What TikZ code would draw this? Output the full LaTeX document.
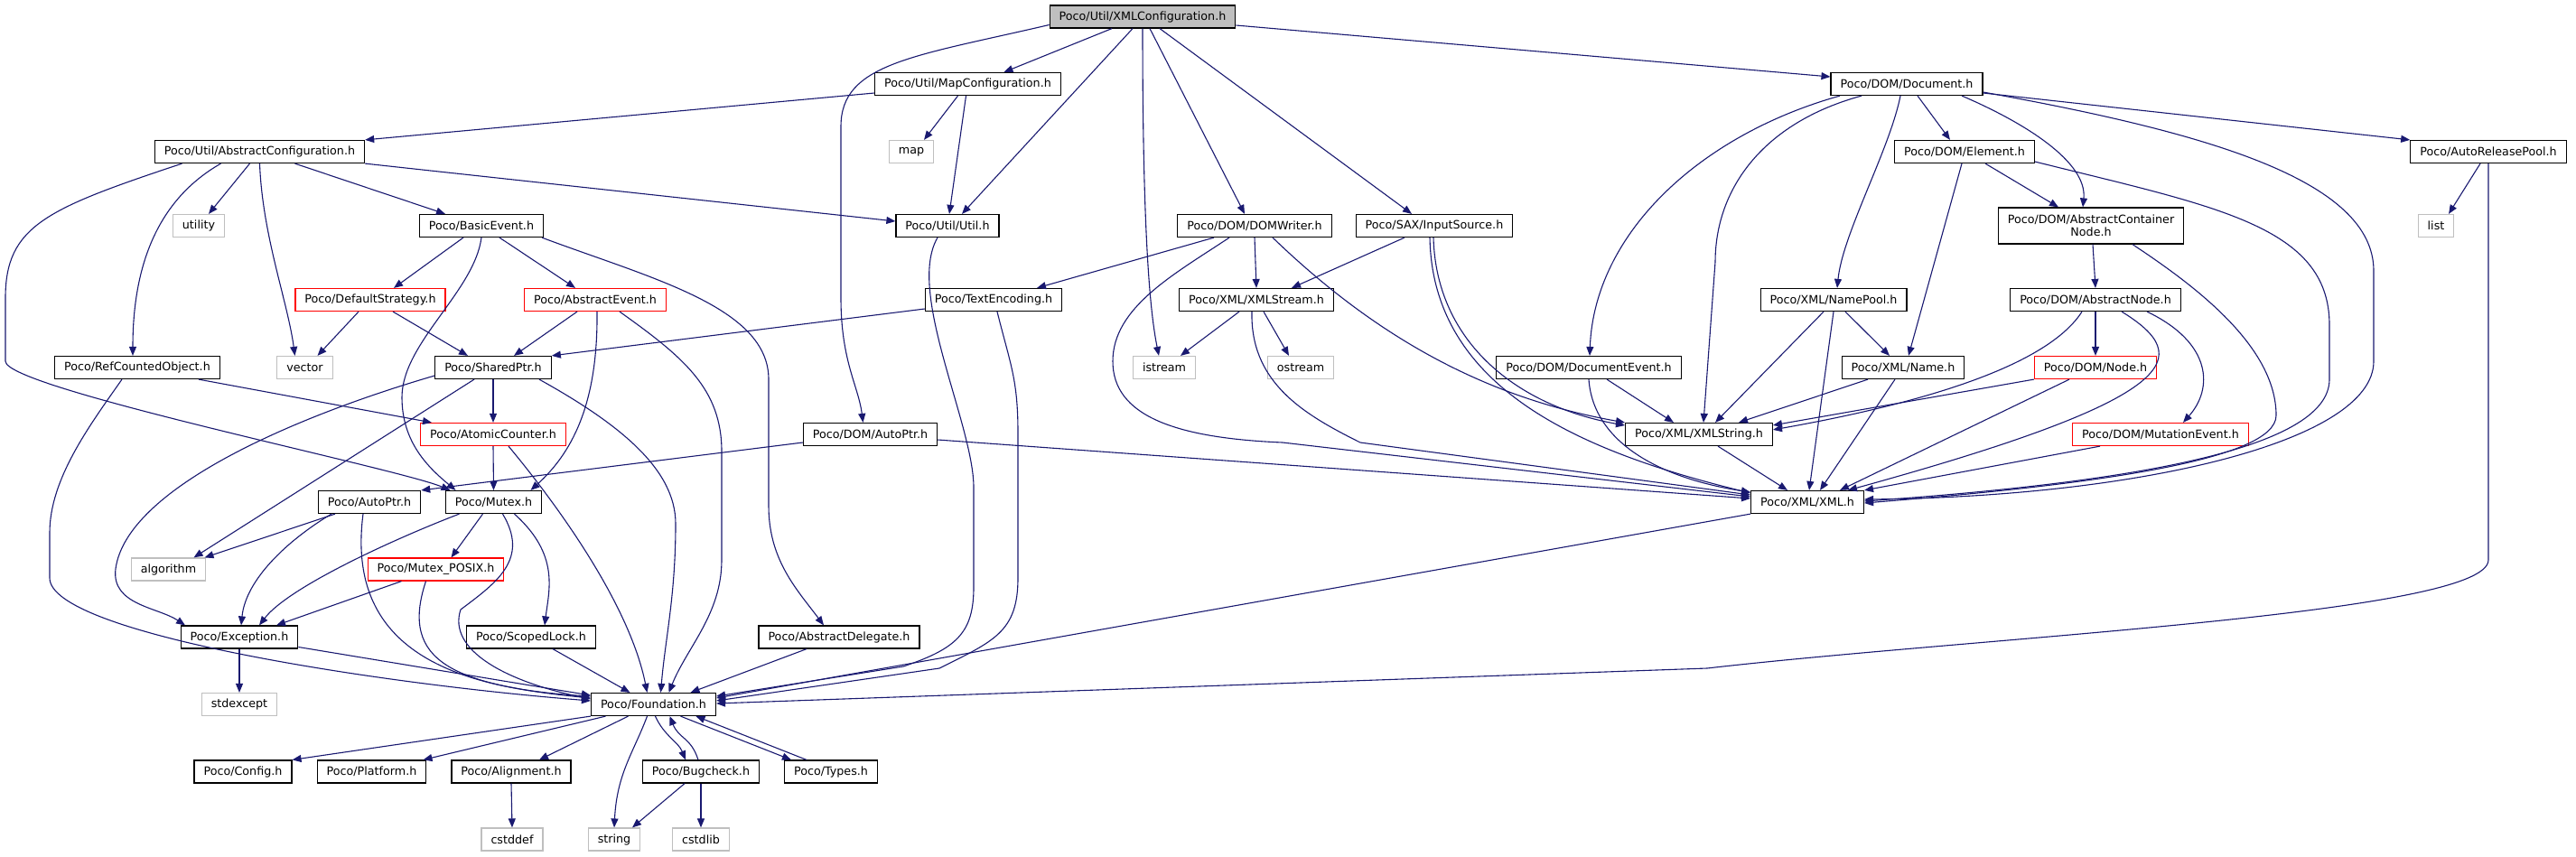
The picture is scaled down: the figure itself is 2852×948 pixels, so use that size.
\documentclass[tikz,border=0pt]{standalone}
\usepackage{fontspec}
\setmainfont{DejaVu Sans}
\usetikzlibrary{arrows.meta}
\definecolor{edgeblue}{HTML}{191970}
\definecolor{grey75}{HTML}{BFBFBF}

\begin{document}
\begin{tikzpicture}[
  x=1pt, y=-1pt,
  >={Triangle[length=10pt,width=8pt]},
  every node/.style={font=\fontsize{12.7}{14.5}\selectfont},
  hdr/.style={rectangle, draw=black, line width=1.2pt, minimum height=25pt, inner xsep=10.5pt, inner ysep=0pt},
  syshdr/.style={hdr, draw=grey75},
  redhdr/.style={hdr, draw=red},
  roothdr/.style={hdr, fill=grey75},
  dep/.style={->, draw=edgeblue, line width=1.1pt}
]
  \useasboundingbox (0,0) rectangle (2852,948);

  \node[roothdr] (xmlcfg) at (1265,18.5) {Poco/Util/XMLConfiguration.h};
  \node[hdr] (mapcfg) at (1071.5,93) {Poco/Util/MapConfiguration.h};
  \node[hdr] (document) at (2111,93) {Poco/DOM/Document.h};
  \node[hdr] (abscfg) at (287.5,168) {Poco/Util/AbstractConfiguration.h};
  \node[syshdr] (map) at (1009,168) {map};
  \node[hdr] (element) at (2175,168) {Poco/DOM/Element.h};
  \node[hdr] (arpool) at (2755,168) {Poco/AutoReleasePool.h};
  \node[syshdr] (utility) at (220,250) {utility};
  \node[hdr] (basicevent) at (533,250) {Poco/BasicEvent.h};
  \node[hdr] (utilh) at (1049,250) {Poco/Util/Util.h};
  \node[hdr] (domwriter) at (1389,250) {Poco/DOM/DOMWriter.h};
  \node[hdr] (inputsrc) at (1588,250) {Poco/SAX/InputSource.h};
  \node[hdr, minimum height=40pt, align=center] (acnode) at (2315,250) {Poco/DOM/AbstractContainer\\Node.h};
  \node[syshdr] (list) at (2697,250) {list};
  \node[redhdr] (defstrat) at (410,332) {Poco/DefaultStrategy.h};
  \node[redhdr] (absevent) at (659,332) {Poco/AbstractEvent.h};
  \node[hdr] (textenc) at (1100,332) {Poco/TextEncoding.h};
  \node[hdr] (xmlstream) at (1391,332) {Poco/XML/XMLStream.h};
  \node[hdr] (namepool) at (2030,332) {Poco/XML/NamePool.h};
  \node[hdr] (absnode) at (2320,332) {Poco/DOM/AbstractNode.h};
  \node[hdr] (refcnt) at (152,407) {Poco/RefCountedObject.h};
  \node[syshdr] (vector) at (337.5,407) {vector};
  \node[hdr] (sharedptr) at (546,407) {Poco/SharedPtr.h};
  \node[syshdr] (istream) at (1289,407) {istream};
  \node[syshdr] (ostream) at (1440,407) {ostream};
  \node[hdr] (docevent) at (1759,407) {Poco/DOM/DocumentEvent.h};
  \node[hdr] (xmlname) at (2107,407) {Poco/XML/Name.h};
  \node[redhdr] (domnode) at (2320,407) {Poco/DOM/Node.h};
  \node[redhdr] (atomic) at (546,481) {Poco/AtomicCounter.h};
  \node[hdr] (domautoptr) at (963.5,481) {Poco/DOM/AutoPtr.h};
  \node[hdr] (xmlstring) at (1881,481) {Poco/XML/XMLString.h};
  \node[redhdr] (mutevent) at (2392,481) {Poco/DOM/MutationEvent.h};
  \node[hdr] (autoptr) at (409,556) {Poco/AutoPtr.h};
  \node[hdr] (mutex) at (546.5,556) {Poco/Mutex.h};
  \node[hdr] (xmlh) at (2001,556) {Poco/XML/XML.h};
  \node[syshdr] (algorithm) at (186.5,630.5) {algorithm};
  \node[redhdr] (mposix) at (482.5,630.5) {Poco/Mutex\_POSIX.h};
  \node[hdr] (exception) at (265,705.5) {Poco/Exception.h};
  \node[hdr] (scopedlock) at (588,705.5) {Poco/ScopedLock.h};
  \node[hdr] (absdelegate) at (929,705.5) {Poco/AbstractDelegate.h};
  \node[syshdr] (stdexcept) at (265,780) {stdexcept};
  \node[hdr] (foundation) at (723.5,780) {Poco/Foundation.h};
  \node[hdr] (config) at (269,854.5) {Poco/Config.h};
  \node[hdr] (platform) at (411.5,854.5) {Poco/Platform.h};
  \node[hdr] (alignment) at (566,854.5) {Poco/Alignment.h};
  \node[hdr] (bugcheck) at (776,854.5) {Poco/Bugcheck.h};
  \node[hdr] (types) at (920,854.5) {Poco/Types.h};
  \node[syshdr] (cstddef) at (567,929.5) {cstddef};
  \node[syshdr] (string) at (680,929.5) {string};
  \node[syshdr] (cstdlib) at (776,929.5) {cstdlib};

  \draw[dep] ([xshift=-34]xmlcfg.south) -- ([xshift=40]mapcfg.north);
  \draw[dep] ([xshift=-11]xmlcfg.south) -- ([xshift=16]utilh.north);
  \draw[dep] (xmlcfg.south) .. controls +(0,250) and +(-8,-40) .. ([xshift=-6]istream.north);
  \draw[dep] ([xshift=8]xmlcfg.south) -- ([xshift=-11]domwriter.north);
  \draw[dep] ([xshift=19]xmlcfg.south) -- ([xshift=-25]inputsrc.north);
  \draw[dep] ([yshift=-9.5]xmlcfg.east) -- ([yshift=8]document.west);
  \draw[dep] ([yshift=-9]xmlcfg.west) .. controls +(-150,35) and +(0,-70) .. (931,140) -- (931,330)
    .. controls +(0,70) and +(-5,-40) .. ([xshift=-8]domautoptr.north);

  \draw[dep] ([yshift=-10]mapcfg.west) -- (abscfg.north east);
  \draw[dep] ([xshift=-11]mapcfg.south) -- ([xshift=14]map.north);
  \draw[dep] ([xshift=-2]mapcfg.south) -- ([xshift=2]utilh.north);

  \draw[dep] (abscfg.south east) -- ([yshift=5]utilh.west);
  \draw[dep] ([xshift=-11]abscfg.south) -- ([xshift=11]utility.north);
  \draw[dep] (abscfg.south) .. controls +(3,80) and +(-8,-60) .. ([xshift=-11]vector.north);
  \draw[dep] ([xshift=39]abscfg.south) -- ([xshift=-40]basicevent.north);
  \draw[dep] ([xshift=-43]abscfg.south) .. controls +(-70,40) and +(0,-100) .. ([xshift=-5]refcnt.north);
  \draw[dep] ([xshift=-86]abscfg.south) .. controls +(-150,50) and +(0,-80) .. (6,330) -- (6,400)
    .. controls +(0,30) and +(-60,-25) .. ([xshift=-48]mutex.north);

  \draw[dep] ([xshift=-20]basicevent.south) -- ([xshift=26]defstrat.north);
  \draw[dep] ([xshift=20]basicevent.south) -- ([xshift=-22]absevent.north);
  \draw[dep] (basicevent.south) .. controls +(-8,60) and +(0,-60) .. (445,440)
    .. controls +(0,50) and +(-30,-25) .. ([xshift=-42]mutex.north);
  \draw[dep] ([xshift=67]basicevent.south) .. controls +(120,45) and +(0,-80) .. (851,420) -- (851,560)
    .. controls +(0,60) and +(-30,-40) .. ([xshift=-17]absdelegate.north);

  \draw[dep] ([xshift=-13]defstrat.south) -- ([xshift=14]vector.north);
  \draw[dep] ([xshift=25]defstrat.south) -- ([xshift=-28]sharedptr.north);
  \draw[dep] ([xshift=-20]absevent.south) -- ([xshift=23]sharedptr.north);
  \draw[dep] ([xshift=2]absevent.south) .. controls +(1,95) and +(50,-45) .. ([xshift=41]mutex.north);
  \draw[dep] ([xshift=27]absevent.south) .. controls +(70,50) and +(0,-70) .. (799,500) -- (799,620)
    .. controls +(0,60) and +(20,-50) .. ([xshift=17]foundation.north);

  \draw[dep] ([xshift=68]refcnt.south) -- ([xshift=-68]atomic.north);
  \draw[dep] ([xshift=-17]refcnt.south) .. controls +(-35,50) and +(0,-60) .. (55,590) -- (55,640)
    .. controls +(0,60) and +(-250,-20) .. ([yshift=4]foundation.west);

  \draw[dep] (sharedptr.south) -- (atomic.north);
  \draw[dep] ([xshift=-21]sharedptr.south) -- ([xshift=28]algorithm.north);
  \draw[dep] ([yshift=-9]sharedptr.west) .. controls +(-151,44) and +(12,-90) .. (128,630)
    .. controls +(-5,40) and +(-30,-20) .. ([xshift=-60]exception.north);
  \draw[dep] ([xshift=51]sharedptr.south) .. controls +(90,50) and +(0,-60) .. (748,580)
    .. controls +(0,80) and +(5,-60) .. ([xshift=8]foundation.north);

  \draw[dep] ([yshift=-10]textenc.west) -- (sharedptr.north east);
  \draw[dep] ([xshift=4]textenc.south) .. controls +(15,60) and +(0,-60) .. (1127,480) -- (1127,640)
    .. controls +(0,60) and +(60,-30) .. (1040,740) -- ([yshift=4]foundation.east);

  \draw[dep] ([xshift=-11]utilh.south) .. controls +(-35,60) and +(0,-70) .. (1078,540) -- (1078,650)
    .. controls +(0,50) and +(60,-20) .. (1000,738) -- ([yshift=9]foundation.east);

  \draw[dep] (atomic.south) -- (mutex.north);
  \draw[dep] ([xshift=17]atomic.south) .. controls +(50,60) and +(-20,-100) .. ([xshift=-7]foundation.north);

  \draw[dep] ([yshift=-9]domautoptr.west) -- (autoptr.north east);
  \draw[dep] ([yshift=-6]domautoptr.east) -- ([yshift=4]xmlh.west);

  \draw[dep] ([xshift=-38]autoptr.south) -- ([xshift=40]algorithm.north);
  \draw[dep] ([xshift=-42]autoptr.south) .. controls +(-50,30) and +(5,-50) .. ([xshift=2]exception.north);
  \draw[dep] ([xshift=-7]autoptr.south) .. controls +(-17,131) and +(-183,-11) .. ([yshift=9]foundation.west);

  \draw[dep] ([xshift=-38]mutex.south) .. controls +(-68,26) and +(33,-43) .. ([xshift=22]exception.north);
  \draw[dep] ([xshift=-12]mutex.south) -- ([xshift=17]mposix.north);
  \draw[dep] ([xshift=10]mutex.south) .. controls +(30,50) and +(40,-30) .. (510,675)
    .. controls +(-15,45) and +(-93,-19) .. ([yshift=6]foundation.west);
  \draw[dep] ([xshift=23]mutex.south) .. controls +(50,45) and +(5,-40) .. ([xshift=15]scopedlock.north);

  \draw[dep] ([xshift=-38]mposix.south) -- ([xshift=41]exception.north);
  \draw[dep] ([xshift=-11]mposix.south) .. controls +(-30,90) and +(-150,-15) .. ([yshift=7]foundation.west);

  \draw[dep] (exception.south) -- (stdexcept.north);
  \draw[dep] ([yshift=-11]exception.east) -- ([yshift=10]foundation.west);
  \draw[dep] ([xshift=24]scopedlock.south) -- ([xshift=-26]foundation.north);
  \draw[dep] ([xshift=-36]absdelegate.south) -- ([xshift=41]foundation.north);

  \draw[dep] (foundation.south west) -- (config.north east);
  \draw[dep] ([xshift=-53]foundation.south) -- ([xshift=57]platform.north);
  \draw[dep] ([xshift=-28]foundation.south) -- ([xshift=31]alignment.north);
  \draw[dep] ([xshift=-7]foundation.south) .. controls +(-15,40) and +(3,-60) .. (string.north);
  \draw[dep] ([xshift=2]foundation.south) .. controls +(10,22) and +(-8,-20) .. ([xshift=-17]bugcheck.north);
  \draw[dep] ([xshift=30]foundation.south) -- ([xshift=-44]types.north);
  \draw[dep] ([xshift=-3]bugcheck.north) .. controls +(-8,-25) and +(10,25) .. ([xshift=18]foundation.south);
  \draw[dep] ([xshift=-27]types.north) -- ([xshift=47]foundation.south);
  \draw[dep] (alignment.south) -- (cstddef.north);
  \draw[dep] ([xshift=-18]bugcheck.south) -- ([xshift=20]string.north);
  \draw[dep] (bugcheck.south) -- (cstdlib.north);

  \draw[dep] (xmlh.south west) -- ([yshift=7]foundation.east);
  \draw[dep] ([xshift=-9]arpool.south) -- ([xshift=14]list.north);
  \draw[dep] (arpool.south) -- (2755,620) .. controls +(0,60) and +(305,-35) .. (1890,740) -- ([yshift=1]foundation.east);

  \draw[dep] ([xshift=-74]document.south) .. controls +(-157,44) and +(5,-134) .. ([xshift=1]docevent.north);
  \draw[dep] ([xshift=-50]document.south) .. controls +(-110,30) and +(0,-80) .. (1899,290) -- ([xshift=5]xmlstring.north);
  \draw[dep] ([xshift=-7]document.south) .. controls +(-12,60) and +(6,-60) .. ([xshift=4]namepool.north);
  \draw[dep] ([xshift=12]document.south) -- ([xshift=-16]element.north);
  \draw[dep] ([xshift=61]document.south) .. controls +(70,30) and +(5,-50) .. ([xshift=-9]acnode.north);
  \draw[dep] ([yshift=-9]document.east) .. controls +(250,45) and +(0,-100) .. (2628,300) -- (2628,400)
    .. controls +(0,90) and +(300,-3) .. ([yshift=3]xmlh.east);
  \draw[dep] ([yshift=-10]document.east) -- (arpool.north west);

  \draw[dep] ([xshift=23]element.south) -- ([xshift=-36]acnode.north);
  \draw[dep] ([xshift=-3]element.south) -- ([xshift=6]xmlname.north);
  \draw[dep] ([yshift=-11]element.east) .. controls +(200,50) and +(0,-110) .. (2579,360) -- (2579,420)
    .. controls +(0,80) and +(280,-20) .. ([yshift=1]xmlh.east);

  \draw[dep] ([xshift=2]acnode.south) -- (absnode.north);
  \draw[dep] ([xshift=46]acnode.south) .. controls +(60,40) and +(0,-80) .. (2520,460)
    .. controls +(0,50) and +(250,-20) .. ([yshift=-1]xmlh.east);

  \draw[dep] ([xshift=13]namepool.south) -- ([xshift=-15]xmlname.north);
  \draw[dep] ([xshift=-11]namepool.south) -- ([xshift=18]xmlstring.north);
  \draw[dep] (namepool.south) -- ([xshift=2]xmlh.north);

  \draw[dep] (absnode.south) -- (domnode.north);
  \draw[dep] ([xshift=-15]absnode.south) .. controls +(-35,55) and +(186,-33) .. ([yshift=-8]xmlstring.north east);
  \draw[dep] ([xshift=29]absnode.south) .. controls +(81,50) and +(374,-103) .. ([xshift=45]xmlh.north);
  \draw[dep] ([xshift=57]absnode.south) .. controls +(73,35) and +(33,-37) .. ([xshift=25]mutevent.north);

  \draw[dep] ([xshift=-39]xmlname.south) -- ([xshift=44]xmlstring.north);
  \draw[dep] ([xshift=-9]xmlname.south) -- ([xshift=14]xmlh.north);
  \draw[dep] (domnode.south west) -- ([yshift=-3]xmlstring.north east);
  \draw[dep] ([xshift=-29]domnode.south) -- ([xshift=36]xmlh.north);
  \draw[dep] ([xshift=-67]mutevent.south) -- (xmlh.north east);

  \draw[dep] ([xshift=20]docevent.south) -- ([xshift=-28]xmlstring.north);
  \draw[dep] (docevent.south) .. controls +(5,71) and +(-98,-15) .. ([yshift=11]xmlh.west);
  \draw[dep] ([xshift=21]xmlstring.south) -- ([xshift=-22]xmlh.north);

  \draw[dep] ([xshift=-45]domwriter.south) -- ([xshift=48]textenc.north);
  \draw[dep] (domwriter.south) -- (xmlstream.north);
  \draw[dep] ([xshift=-28]domwriter.south) .. controls +(-60,40) and +(0,-60) .. (1232,400)
    .. controls +(0,60) and +(-120,-5) .. (1420,490) -- ([yshift=6]xmlh.west);
  \draw[dep] ([xshift=20]domwriter.south) .. controls +(111,107) and +(-158,-28) .. (xmlstring.north west);

  \draw[dep] ([xshift=-33]inputsrc.south) -- ([xshift=39]xmlstream.north);
  \draw[dep] ([xshift=-1]inputsrc.south) .. controls +(3,117) and +(-118,-21) .. ([yshift=10]xmlstring.west);
  \draw[dep] ([xshift=-5]inputsrc.south) .. controls +(3,167) and +(-188,-46) .. ([yshift=10]xmlh.west);

  \draw[dep] ([xshift=-19]xmlstream.south) -- ([xshift=18]istream.north);
  \draw[dep] ([xshift=8]xmlstream.south) -- ([xshift=-13]ostream.north);
  \draw[dep] ([xshift=-5]xmlstream.south) .. controls +(-2,80) and +(-60,-30) .. (1506,490) -- ([yshift=8]xmlh.west);
\end{tikzpicture}
\end{document}
